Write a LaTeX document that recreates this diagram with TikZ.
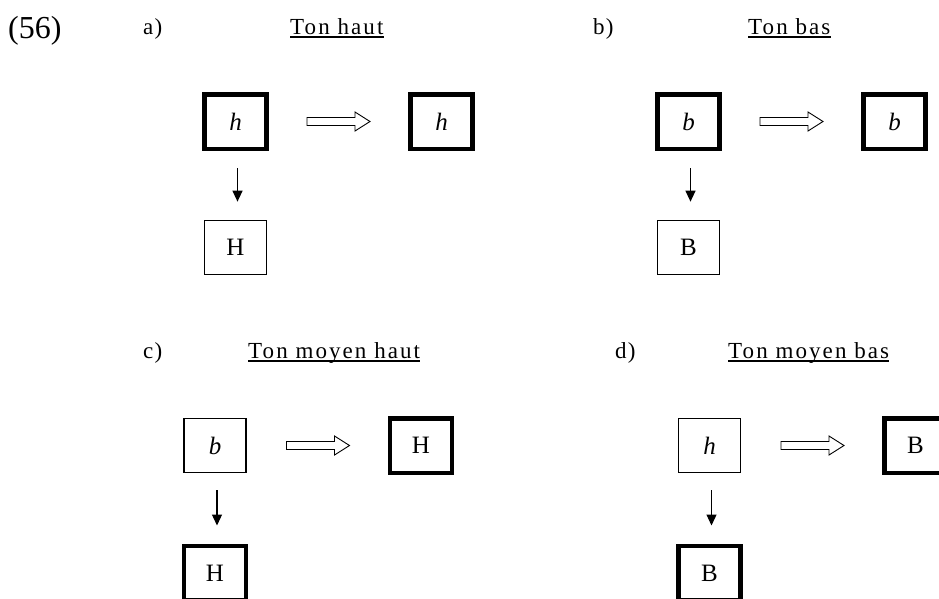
\documentclass[tikz,border=0pt]{standalone}
\usepackage{fontspec}
\setmainfont{Liberation Serif}
\usetikzlibrary{arrows.meta, calc}
\newcommand\tonefont{\fontsize{23}{27}\selectfont}
\tikzset{
  tonebox/.style={draw, minimum width=62pt, minimum height=54.5pt, inner sep=0pt, font=\fontsize{25}{29}\selectfont},
  downarr/.style={-{Triangle[length=11pt, width=10pt]}, line width=1.2pt, shorten <=17pt, shorten >=18pt},
  hollowarr/.pic={
    \draw[line width=0.9pt, miter limit=4] (-31.5,-4) -- (16.5,-4) -- (16.5,-9.5) -- (31.5,0)
      -- (16.5,9.5) -- (16.5,4) -- (-31.5,4) -- cycle;
  },
  plab/.style={anchor=base west, inner sep=0pt, font=\tonefont\addfontfeature{LetterSpace=5}},
  ttl/.style={plab, font=\tonefont\addfontfeature{LetterSpace=9}},
  uline/.style={line width=1.4pt},
}

\begin{document}
\begin{tikzpicture}[x=1pt, y=-1pt]
    \clip (0,0) rectangle (939,598);
    \node[anchor=base west, inner sep=0pt, font=\fontsize{32}{36}\selectfont] (num) at (8,38) {(56)};
    % titles of the four cases
    \foreach \p/\x/\y/\t/\tx in {a/143/34/Ton haut/290, b/593/34/Ton bas/748,
        c/143/358/Ton moyen haut/248, d/615/358/Ton moyen bas/728} {
      \node[plab] (lab-\p) at (\x,\y) {\p)};
      \node[ttl] (ttl-\p) at (\tx,\y) {\t};
      \draw[uline] ([yshift=-3pt]ttl-\p.base west) -- ([yshift=-3pt]ttl-\p.base east);
    }
    % boxes: left tone, result, lower tone
    \foreach \p/\x/\y/\yb/\tl/\tr/\tb/\wl/\wr/\wb in {
        a/235.5/121.5/247.5/\textit{h}/\textit{h}/H/4.5/4.5/1.2,
        b/688.5/121.5/247.5/\textit{b}/\textit{b}/B/4.5/4.5/1.2,
        c/215/445.5/573/\textit{b}/H/H/1.2/4.5/4.5,
        d/709.5/445.5/573/\textit{h}/B/B/1.2/4.5/4.5} {
      \node[tonebox, line width=\wl pt] (\p-l) at (\x,\y) {\tl};
      \node[tonebox, line width=\wr pt] (\p-r) at (\x+206,\y) {\tr};
      \node[tonebox, line width=\wb pt] (\p-d) at (\x,\yb) {\tb};
      \pic at ($(\p-l)!0.5!(\p-r)$) {hollowarr};
      \draw[downarr] ([xshift=2pt]\p-l.south) -- ([xshift=2pt]\p-d.north);
    }
\end{tikzpicture}
\end{document}
